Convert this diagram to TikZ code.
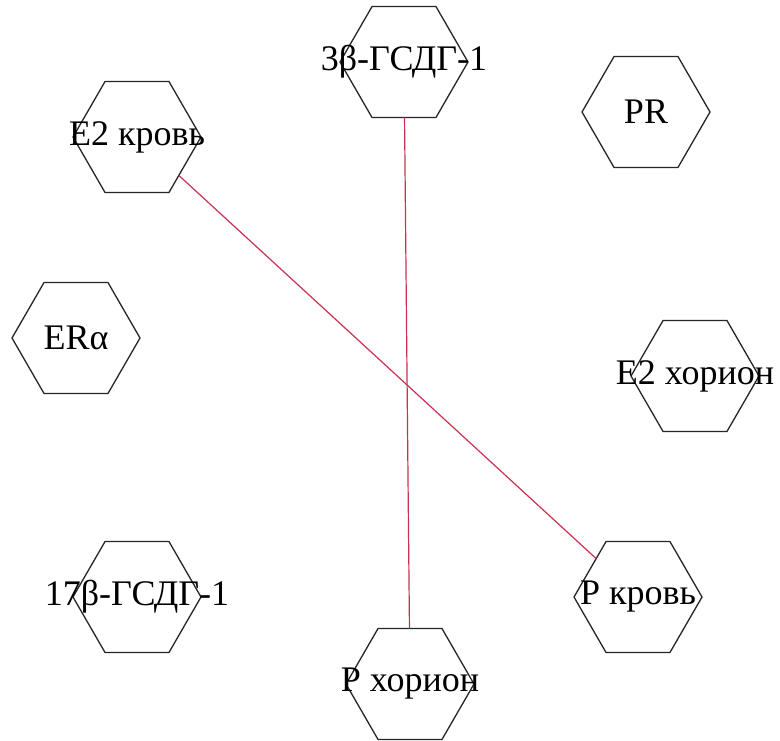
\documentclass[tikz,border=0pt]{standalone}
\usepackage{fontspec}
\setmainfont{Liberation Serif}
\usetikzlibrary{shapes.geometric}
\definecolor{edgered}{RGB}{200,50,80}
\tikzset{
  hexnode/.style={draw=black!85, line width=1.3pt, regular polygon, regular polygon sides=6,
    minimum size=128pt, inner sep=0pt, outer sep=0pt,
    label={[font=\fontsize{36}{40}\selectfont, inner sep=0pt]center:#1}},
  link/.style={draw=edgered, line width=1.2pt}
}
\begin{document}
\begin{tikzpicture}[x=1pt,y=-1pt]
\useasboundingbox[fill=white] (0,0) rectangle (780,740);
\node[hexnode={3β-ГСДГ-1}] (b3) at (404,62) {};
\node[hexnode={PR}] (pr) at (646,112) {};
\node[hexnode={E2 кровь}] (e2k) at (137,137) {};
\node[hexnode={ERα}] (era) at (76,338) {};
\node[hexnode={E2 хорион}] (e2h) at (695,376) {};
\node[hexnode={P кровь}] (pk) at (638,597) {};
\node[hexnode={17β-ГСДГ-1}] (b17) at (137,597) {};
\node[hexnode={P хорион}] (ph) at (410,684) {};
\draw[link] (e2k) -- (pk);
\draw[link] (b3) -- (ph);
\end{tikzpicture}
\end{document}
